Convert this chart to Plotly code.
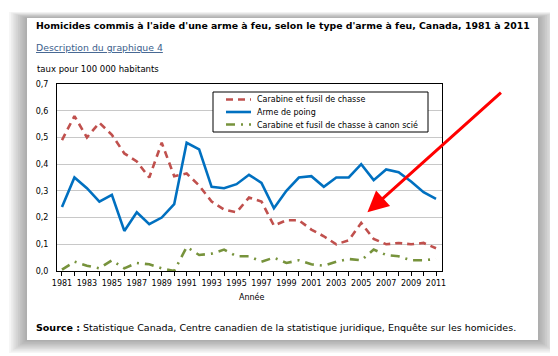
import plotly.graph_objects as go

years = list(range(1981, 2012))
carabine = [0.49, 0.58, 0.50, 0.555, 0.51, 0.44, 0.41, 0.35, 0.48, 0.355,
            0.365, 0.32, 0.26, 0.23, 0.22, 0.275, 0.26, 0.17, 0.19, 0.19,
            0.155, 0.13, 0.10, 0.115, 0.18, 0.12, 0.10, 0.105, 0.10, 0.105, 0.085]
poing = [0.24, 0.35, 0.31, 0.26, 0.285, 0.15, 0.22, 0.175, 0.20, 0.25,
         0.48, 0.455, 0.315, 0.31, 0.325, 0.36, 0.33, 0.235, 0.30, 0.35,
         0.355, 0.315, 0.35, 0.35, 0.40, 0.34, 0.38, 0.37, 0.335, 0.295, 0.27]
scie = [0.005, 0.035, 0.02, 0.01, 0.04, 0.01, 0.03, 0.025, 0.01, 0.0,
        0.09, 0.06, 0.065, 0.08, 0.055, 0.055, 0.035, 0.05, 0.03, 0.04,
        0.025, 0.02, 0.035, 0.045, 0.04, 0.08, 0.06, 0.055, 0.04, 0.04, 0.045]
series_names = ["Carabine et fusil de chasse", "Arme de poing",
                "Carabine et fusil de chasse à canon scié"]
series_colors = ["#C0504D", "#0070C0", "#77933C"]
series_dash = ["7px,5px", "solid", "9px,6px,2px,6px"]
x_tick_vals = list(range(1981, 2012, 2))
x_tick_text = [str(v) for v in x_tick_vals]
y_tick_vals = [0, 0.1, 0.2, 0.3, 0.4, 0.5, 0.6, 0.7]
y_tick_text = ["0,0", "0,1", "0,2", "0,3", "0,4", "0,5", "0,6", "0,7"]

OFF = 8  # page body margin
W, H = 558 - OFF, 356 - OFF
L, R, T, B = 57, 442, 84, 271  # plot area in page pixels


def px(x):
    return (x - L) / (R - L)


def py(y):
    return (B - y) / (B - T)


FONT = "Verdana, DejaVu Sans, sans-serif"

fig = go.Figure()
for name, vals, col, dash in zip(series_names, [carabine, poing, scie], series_colors, series_dash):
    fig.add_trace(go.Scatter(x=years, y=vals, mode="lines", name=name, showlegend=False,
                             line=dict(color=col, width=2.6, dash=dash)))

shapes = []
# card shadow
for i in range(10, 0, -1):
    shapes.append(dict(type="rect", xref="paper", yref="paper", layer="below",
                       x0=px(27 - i * 1.8), x1=px(538 + i * 1.8),
                       y0=py(340 + i * 1.3), y1=py(18 - i * 0.6),
                       line=dict(width=0), fillcolor="rgba(0,0,0,0.035)"))
shapes.append(dict(type="rect", xref="paper", yref="paper", layer="below",
                   x0=px(27), x1=px(538), y0=py(340), y1=py(18),
                   line=dict(width=0), fillcolor="white"))
# legend box
shapes.append(dict(type="rect", xref="paper", yref="paper", layer="above",
                   x0=px(213), x1=px(428), y0=py(132), y1=py(92),
                   line=dict(color="black", width=1), fillcolor="white"))
leg_rows = [99.5, 112, 124.5]
for yrow, col, dash in zip(leg_rows, series_colors, series_dash):
    shapes.append(dict(type="line", xref="paper", yref="paper", layer="above",
                       x0=px(226), x1=px(251), y0=py(yrow), y1=py(yrow),
                       line=dict(color=col, width=2.6, dash=dash)))
fig.update_layout(shapes=shapes)

annotations = [
    dict(text="<b>Homicides commis à l'aide d'une arme à feu, selon le type d'arme à feu, Canada, 1981 à 2011</b>",
         x=px(34), y=py(25), xref="paper", yref="paper", xanchor="left", yanchor="middle",
         showarrow=False, font=dict(family=FONT, size=9.35, color="black")),
    dict(text="<u>Description du graphique 4</u>",
         x=px(34), y=py(47), xref="paper", yref="paper", xanchor="left", yanchor="middle",
         showarrow=False, font=dict(family=FONT, size=9.3, color="#3B5E8C")),
    dict(text="taux pour 100 000 habitants",
         x=px(35), y=py(69), xref="paper", yref="paper", xanchor="left", yanchor="middle",
         showarrow=False, font=dict(family=FONT, size=8.5, color="black")),
    dict(text="Année",
         x=px(252), y=py(297), xref="paper", yref="paper", xanchor="center", yanchor="middle",
         showarrow=False, font=dict(family=FONT, size=8, color="black")),
    dict(text="<b>Source :</b> Statistique Canada, Centre canadien de la statistique juridique, Enquête sur les homicides.",
         x=px(34), y=py(327), xref="paper", yref="paper", xanchor="left", yanchor="middle",
         showarrow=False, font=dict(family=FONT, size=9.5, color="black")),
    dict(text="", x=2005.5, y=0.22, xref="x", yref="y", showarrow=True,
         ax=135, ay=-121, axref="pixel", ayref="pixel",
         arrowhead=2, arrowsize=1.4, arrowwidth=3, arrowcolor="#FF0000"),
]
for yrow, name in zip(leg_rows, series_names):
    annotations.append(dict(text=name, x=px(255), y=py(yrow), xref="paper", yref="paper",
                            xanchor="left", yanchor="middle", showarrow=False,
                            font=dict(family=FONT, size=8, color="black")))
fig.update_layout(annotations=annotations)

fig.update_layout(
    width=W, height=H,
    margin=dict(l=L - OFF, r=W - (R - OFF), t=T - OFF, b=H - (B - OFF), pad=0),
    paper_bgcolor="white", plot_bgcolor="rgba(0,0,0,0)",
    font=dict(family=FONT, size=8, color="black"),
    showlegend=False,
    xaxis=dict(range=[1980.6, 2011.48], tickmode="array", tickvals=x_tick_vals,
               ticktext=x_tick_text, ticks="outside", ticklen=4, tickcolor="black",
               showline=True, linecolor="black", linewidth=1, mirror=True,
               showgrid=False, zeroline=False,
               minor=dict(dtick=1, tick0=1981, ticks="outside", ticklen=4, tickcolor="black"),
               tickfont=dict(family=FONT, size=8)),
    yaxis=dict(range=[0, 0.7], tickmode="array", tickvals=y_tick_vals, ticktext=y_tick_text,
               showline=True, linecolor="black", linewidth=1, mirror=True,
               showgrid=True, gridcolor="#C8C8C8", gridwidth=1, zeroline=False,
               ticks="", ticklabelstandoff=6, tickfont=dict(family=FONT, size=8)),
)

fig.write_html("out.html")
